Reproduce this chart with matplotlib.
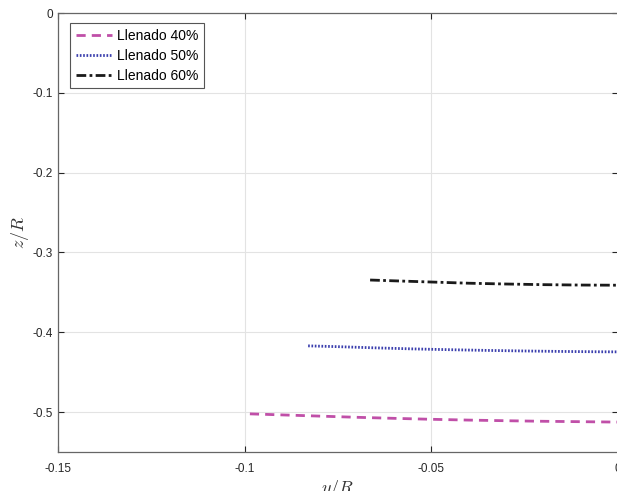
import numpy as np
import matplotlib.pyplot as plt

plt.rcParams['font.family'] = ['Liberation Sans', 'DejaVu Sans']
plt.rcParams['mathtext.fontset'] = 'cm'

# data
y40 = [-0.0986, -0.09, -0.08, -0.07, -0.06, -0.05, -0.04, -0.03, -0.02, -0.01, 0.0]
z40 = [-0.5022, -0.5035, -0.5050, -0.5065, -0.5078, -0.5090, -0.5100, -0.5108, -0.5115, -0.5120, -0.5125]
y50 = [-0.083, -0.075, -0.065, -0.055, -0.045, -0.035, -0.025, -0.015, -0.005, 0.0]
z50 = [-0.4170, -0.4180, -0.4195, -0.4208, -0.4218, -0.4227, -0.4234, -0.4240, -0.4244, -0.4245]
y60 = [-0.0664, -0.06, -0.05, -0.04, -0.03, -0.02, -0.01, 0.0]
z60 = [-0.3345, -0.3355, -0.3370, -0.3385, -0.3395, -0.3403, -0.3408, -0.3410]
labels = ['Llenado 40%', 'Llenado 50%', 'Llenado 60%']

fig = plt.figure(figsize=(6.17, 4.91), dpi=100)
ax = fig.add_axes([0.094, 0.0794, 0.9076, 0.894])

ax.plot(y40, z40, linestyle=(0, (3.3, 2.2)), color='#c04fa8', lw=2.0, label=labels[0])
ax.plot(y50, z50, linestyle=(0, (0.6, 0.6)), color='#3b3fae', lw=2.0, label=labels[1])
ax.plot(y60, z60, linestyle=(0, (3.5, 1.2, 1, 1.2)), color='#1a1a1a', lw=2.0, label=labels[2])

ax.set_xlim(-0.15, 0)
ax.set_ylim(-0.55, 0)
ax.set_xticks([-0.15, -0.1, -0.05, 0])
ax.set_xticklabels(['-0.15', '-0.1', '-0.05', '0'])
ax.set_yticks([-0.5, -0.4, -0.3, -0.2, -0.1, 0])
ax.set_yticklabels(['-0.5', '-0.4', '-0.3', '-0.2', '-0.1', '0'])
ax.grid(True, color='#e3e3e3', lw=0.8)
ax.set_axisbelow(True)
ax.tick_params(axis='x', pad=8)
ax.tick_params(axis='y', pad=3.5)
ax.tick_params(direction='in', top=True, right=True, labelsize=8.5,
               colors='#262626', length=4, width=0.8)
for s in ax.spines.values():
    s.set_color('#666666')
    s.set_linewidth(0.9)

ax.set_xlabel('$y/R$', fontsize=13, color='#333333', labelpad=2)
ax.set_ylabel('$z/R$', fontsize=13, color='#333333', labelpad=1.5)

leg = ax.legend(loc='upper left', bbox_to_anchor=(0.0214, 0.977), borderaxespad=0,
                fontsize=10, handlelength=2.6, handletextpad=0.35, labelspacing=0.42,
                borderpad=0.42, fancybox=False, framealpha=1, edgecolor='#555555')
leg.get_frame().set_linewidth(0.8)

fig.savefig('out.png', dpi=100)
